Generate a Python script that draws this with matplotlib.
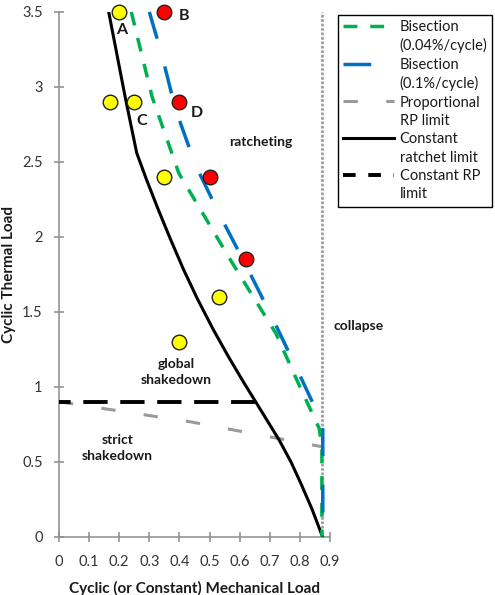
import matplotlib
matplotlib.use('Agg')
import matplotlib.pyplot as plt
from matplotlib.lines import Line2D
from matplotlib.ticker import FuncFormatter

plt.rcParams['font.family'] = ['Lato', 'DejaVu Sans']

# ---- data ----
green_x = [0.24, 0.309, 0.398, 0.576, 0.72, 0.80, 0.864, 0.873, 0.873]
green_y = [3.5, 2.935, 2.424, 1.824, 1.357, 1.0, 0.723, 0.60, 0.0]

blue_x = [0.30, 0.342, 0.387, 0.453, 0.537, 0.626, 0.709, 0.792, 0.876, 0.876]
blue_y = [3.5, 3.21, 2.85, 2.48, 2.133, 1.79, 1.457, 1.11, 0.75, 0.0]

prop_x = [0.0, 0.44, 0.873]
prop_y = [0.9, 0.765, 0.6]

ratchet_x = [0.165, 0.22, 0.258, 0.29, 0.33, 0.37, 0.414, 0.46, 0.51,
             0.56, 0.61, 0.653, 0.731, 0.77, 0.803, 0.84, 0.875]
ratchet_y = [3.5, 2.93, 2.56, 2.385, 2.18, 1.985, 1.78, 1.585, 1.39,
             1.21, 1.04, 0.90, 0.645, 0.50, 0.356, 0.185, 0.0]

rp_x = [0.0, 0.653]
rp_y = [0.9, 0.9]

collapse_x = [0.873, 0.873]
collapse_y = [0.0, 3.5]

yellow_x = [0.20, 0.17, 0.25, 0.35, 0.53, 0.40]
yellow_y = [3.5, 2.9, 2.9, 2.4, 1.6, 1.3]
red_x = [0.35, 0.40, 0.50, 0.62]
red_y = [3.5, 2.9, 2.4, 1.85]

point_names = ['A', 'B', 'C', 'D']
name_x = [0.209, 0.414, 0.276, 0.457]
name_y = [3.38, 3.47, 2.77, 2.825]

labels = [('Bisection', '(0.04%/cycle)'), ('Bisection', '(0.1%/cycle)'),
          ('Proportional', 'RP limit'), ('Constant', 'ratchet limit'),
          ('Constant RP', 'limit')]

x_ticks = [0, 0.1, 0.2, 0.3, 0.4, 0.5, 0.6, 0.7, 0.8, 0.9]
y_ticks = [0, 0.5, 1, 1.5, 2, 2.5, 3, 3.5]

# ---- figure ----
fig = plt.figure(figsize=(4.95, 5.95), dpi=100)
ax = fig.add_axes([0.1192, 0.098, 0.5475, 0.8819])

ax.plot(collapse_x, collapse_y, color='#A0A0A0', lw=2.0,
        linestyle=(0, (1, 0.6)), clip_on=False, zorder=1)

gray, = ax.plot(prop_x, prop_y, color='#9A9A9A', lw=2.2,
                linestyle=(0, (4.7, 9.3)), zorder=2)
rp, = ax.plot(rp_x, rp_y, color='black', lw=2.8,
              linestyle=(3.25, (6.25, 3.25)), zorder=3)
ratchet, = ax.plot(ratchet_x, ratchet_y, color='black', lw=2.2, zorder=3)
green, = ax.plot(green_x, green_y, color='#00B050', lw=2.5,
                 linestyle=(0, (4, 3.7)), clip_on=False, zorder=4)
blue, = ax.plot(blue_x, blue_y, color='#0070C0', lw=2.5,
                linestyle=(0, (8, 8.3)), clip_on=False, zorder=4)

ax.plot(yellow_x, yellow_y, 'o', ms=10.5, mfc='#FFFF00', mec='#222222',
        mew=1.0, clip_on=False, zorder=6)
ax.plot(red_x, red_y, 'o', ms=10.5, mfc='#FF0000', mec='#222222',
        mew=1.0, clip_on=False, zorder=6)

for name, tx, ty in zip(point_names, name_x, name_y):
    ax.text(tx, ty, name, fontsize=11.5, fontweight='bold', color='#1a1a1a',
            ha='center', va='center', zorder=7)

ax.text(0.67, 2.63, 'ratcheting', fontsize=10, fontweight='bold',
        color='#1a1a1a', ha='center', va='center')
ax.text(0.912, 1.405, 'collapse', fontsize=10, fontweight='bold',
        color='#1a1a1a', ha='left', va='center', clip_on=False)
ax.text(0.39, 1.10, 'global\nshakedown', fontsize=10, fontweight='bold',
        color='#1a1a1a', ha='center', va='center', linespacing=1.35)
ax.text(0.194, 0.59, 'strict\nshakedown', fontsize=10, fontweight='bold',
        color='#1a1a1a', ha='center', va='center', linespacing=1.35)

ax.set_xlim(0, 0.9)
ax.set_ylim(0, 3.5)
ax.set_xticks(x_ticks)
ax.set_yticks(y_ticks)
fmt = FuncFormatter(lambda v, p: '%g' % round(v, 2))
ax.xaxis.set_major_formatter(fmt)
ax.yaxis.set_major_formatter(fmt)

for s in ['top', 'right']:
    ax.spines[s].set_visible(False)
for s in ['left', 'bottom']:
    ax.spines[s].set_color('#8C8C8C')
    ax.spines[s].set_linewidth(1.1)

ax.tick_params(axis='both', direction='inout', length=6.5, width=1.1,
               color='#8C8C8C', labelsize=10.5, labelcolor='#333333')
ax.tick_params(axis='y', pad=8.5)
ax.tick_params(axis='x', pad=10)

ax.set_xlabel('Cyclic (or Constant) Mechanical Load', fontsize=11,
              fontweight='bold', color='#1a1a1a')
ax.xaxis.set_label_coords(0.5, -0.0845)
ax.set_ylabel('Cyclic Thermal Load', fontsize=11, fontweight='bold',
              color='#1a1a1a')
ax.yaxis.set_label_coords(-0.158, 0.5)

# legend: handle on the first line of each two-line label
rp_handle = Line2D([], [], color='black', lw=2.8, linestyle=(0, (3.25, 3.25)))
blank = Line2D([], [], color='none')
handles = []
texts = []
for h, (first, second) in zip([green, blue, gray, ratchet, rp_handle], labels):
    handles += [h, blank]
    texts += [first, second]
leg = fig.legend(handles, texts,
                 loc='upper left', bbox_to_anchor=(0.682, 0.975),
                 fontsize=10.5, frameon=True, fancybox=False, framealpha=1,
                 edgecolor='black', handlelength=3.5, handletextpad=0.4,
                 labelspacing=0.3, borderpad=0.35, borderaxespad=0)
leg.get_frame().set_linewidth(1.0)
for t in leg.get_texts():
    t.set_color('#1a1a1a')

fig.savefig('out.png', dpi=100)
